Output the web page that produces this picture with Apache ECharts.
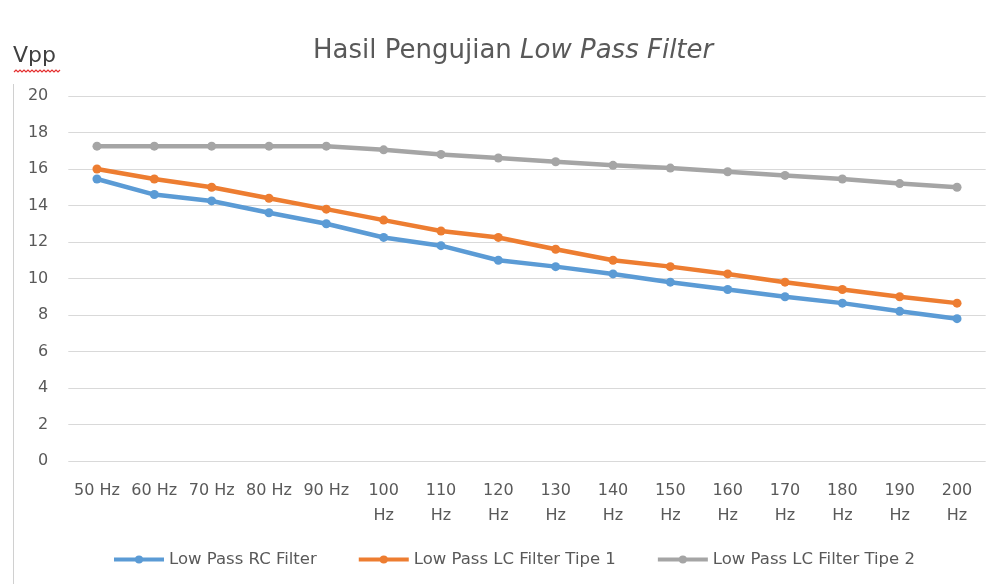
<!DOCTYPE html>
<html><head><meta charset="utf-8">
<script src="https://cdn.jsdelivr.net/npm/echarts@6/dist/echarts.min.js"></script>
<style>html,body{margin:0;padding:0;background:#fff}#c{width:1003px;height:584px}</style>
</head><body><div id="c"></div>
<script>
const categories = ['50 Hz','60 Hz','70 Hz','80 Hz','90 Hz','100 Hz','110 Hz','120 Hz','130 Hz','140 Hz','150 Hz','160 Hz','170 Hz','180 Hz','190 Hz','200 Hz'];
const rcFilter = [15.45,14.6,14.25,13.6,13.0,12.25,11.8,11.0,10.65,10.25,9.8,9.4,9.0,8.65,8.2,7.8];
const lcTipe1 = [16.0,15.45,15.0,14.4,13.8,13.2,12.6,12.25,11.6,11.0,10.65,10.25,9.8,9.4,9.0,8.65];
const lcTipe2 = [17.25,17.25,17.25,17.25,17.25,17.05,16.8,16.6,16.4,16.2,16.05,15.85,15.65,15.45,15.2,15.0];
const seriesNames = ['Low Pass RC Filter','Low Pass LC Filter Tipe 1','Low Pass LC Filter Tipe 2'];
const yTicks = {min:0,max:20,interval:2};

const colors = ['#5B9BD5','#ED7D31','#A5A5A5'];
const font = 'DejaVu Sans';
const chart = echarts.init(document.getElementById('c'));
const mk = (name,data,i)=>({name,type:'line',data,symbol:'circle',symbolSize:9,
  lineStyle:{width:4.5,color:colors[i]},itemStyle:{color:colors[i]},z:2+i});
const wave = [];
for (let x=14; x<=61; x+=2) wave.push([x, (x/2)%2 ? 72 : 70]);
chart.setOption({
  animation:false,
  title:{text:'Hasil Pengujian {i|Low Pass Filter}',left:308,top:33,
    textStyle:{fontFamily:font,fontSize:26,fontWeight:'normal',color:'#595959',
      rich:{i:{fontFamily:font,fontSize:26,fontStyle:'italic',color:'#595959'}}}},
  grid:{left:68.3,right:17.3,top:96,bottom:123,containLabel:false},
  legend:{top:546,left:107,itemWidth:50,itemHeight:10,itemGap:40,
    lineStyle:{width:4},
    textStyle:{fontFamily:font,fontSize:16.5,color:'#595959'},
    data:seriesNames},
  xAxis:{type:'category',data:categories,boundaryGap:true,
    axisLine:{show:false},axisTick:{show:false},
    axisLabel:{fontFamily:font,fontSize:16,color:'#595959',margin:17,lineHeight:25,interval:0,
      formatter:v=>v.length>5?v.replace(' ','\n'):v}},
  yAxis:{type:'value',min:yTicks.min,max:yTicks.max,interval:yTicks.interval,
    axisLine:{show:false},axisTick:{show:false},
    axisLabel:{fontFamily:font,fontSize:16,color:'#595959',margin:20},
    splitLine:{lineStyle:{color:'#D9D9D9',width:1}}},
  graphic:[
    {type:'text',left:13,top:45,style:{text:'Vpp',fontFamily:font,fontSize:22,fill:'#404040'}},
    {type:'polyline',shape:{points:wave},style:{stroke:'#E53030',lineWidth:1.2,fill:null}},
    {type:'line',shape:{x1:13.5,y1:84,x2:13.5,y2:584},style:{stroke:'#D0D0D0',lineWidth:1}}
  ],
  series:[mk(seriesNames[0],rcFilter,0),mk(seriesNames[1],lcTipe1,1),mk(seriesNames[2],lcTipe2,2)]
});
</script></body></html>
